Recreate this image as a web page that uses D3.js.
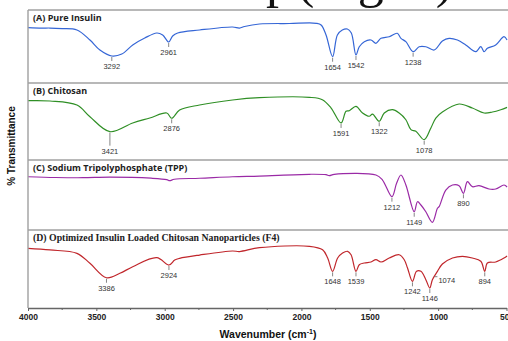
<!DOCTYPE html>
<html>
<head>
<meta charset="utf-8">
<script src="https://cdn.jsdelivr.net/npm/d3@7"></script>
<style>
  html, body { margin: 0; padding: 0; background: #fff; overflow: hidden; }
  svg { display: block; }
</style>
</head>
<body>
<svg id="ftir"></svg>
<script>
// Spectra: wavenumber (cm-1) and relative % transmittance per panel (0..100)
const insulinWn = [4000, 3900, 3839, 3750, 3642, 3547, 3474, 3387, 3314, 3234, 3146, 3058, 3015, 2971, 2942, 2905, 2745, 2504, 2453, 2416, 2307, 2088, 1891, 1856, 1820, 1772, 1737, 1701, 1664, 1635, 1601, 1577, 1540, 1491, 1455, 1418, 1358, 1299, 1272, 1236, 1183, 1139, 1090, 1029, 969, 920, 859, 798, 725, 688, 664, 640, 579, 518, 496];
const insulinT = [75.8, 75.2, 75.3, 74.5, 72.6, 58.9, 45.2, 37.0, 39.7, 52.1, 61.6, 68.5, 65.8, 56.2, 64.4, 68.5, 72.6, 76.7, 75.3, 77.4, 80.8, 81.5, 81.8, 79.5, 65.8, 36.0, 65.8, 72.6, 74.0, 68.5, 38.4, 49.7, 56.6, 58.9, 54.4, 61.2, 63.4, 68.1, 61.2, 56.6, 42.9, 49.7, 49.7, 45.2, 57.5, 61.2, 58.9, 52.1, 42.9, 49.7, 42.9, 47.5, 52.1, 63.4, 58.9];

const chitosanWn = [4000, 3839, 3642, 3547, 3401, 3234, 3109, 2985, 2949, 2891, 2745, 2504, 2307, 1942, 1847, 1783, 1710, 1674, 1650, 1601, 1553, 1504, 1480, 1431, 1394, 1334, 1285, 1236, 1199, 1163, 1102, 1053, 1017, 969, 847, 750, 664, 603, 542, 496];
const chitosanT = [77.0, 76.6, 71.4, 56.2, 36.8, 48.1, 54.5, 61.0, 54.2, 64.9, 71.4, 77.9, 80.9, 81.4, 78.3, 67.5, 48.1, 63.2, 64.0, 69.7, 61.0, 56.8, 59.7, 50.3, 61.0, 65.3, 61.0, 52.3, 39.4, 37.3, 26.4, 41.6, 54.5, 62.3, 72.7, 67.5, 61.0, 62.3, 65.3, 68.4];

const tppWn = [4000, 3800, 3600, 3400, 3100, 2985, 2964, 2930, 2745, 2504, 2307, 1942, 1820, 1796, 1760, 1455, 1407, 1338, 1304, 1272, 1236, 1175, 1151, 1126, 1090, 1042, 1005, 993, 944, 895, 847, 815, 786, 750, 701, 628, 579, 518, 496];
const tppT = [76.1, 75.0, 74.7, 75.5, 74.0, 72.0, 70.4, 72.5, 73.9, 76.1, 77.1, 79.6, 79.0, 77.6, 79.5, 78.6, 71.4, 47.6, 66.7, 78.6, 64.3, 26.1, 40.4, 35.7, 26.1, 11.0, 31.0, 33.3, 57.1, 64.3, 63.3, 52.4, 69.0, 61.9, 63.3, 58.6, 58.6, 64.3, 61.4];

const nanoWn = [4000, 3839, 3642, 3547, 3426, 3328, 3234, 3058, 2969, 2927, 2891, 2745, 2504, 2453, 2307, 1942, 1845, 1808, 1772, 1735, 1699, 1662, 1637, 1601, 1577, 1540, 1491, 1455, 1418, 1358, 1285, 1248, 1224, 1188, 1158, 1126, 1090, 1061, 1042, 1005, 969, 895, 822, 750, 688, 659, 640, 579, 518, 496];
const nanoT = [76.5, 74.4, 70.1, 57.3, 38.8, 44.5, 52.9, 64.5, 55.1, 61.5, 63.7, 67.9, 73.1, 72.4, 77.3, 79.1, 74.7, 64.1, 47.0, 64.1, 70.5, 72.7, 68.3, 47.0, 55.5, 57.7, 59.0, 61.9, 59.0, 64.1, 68.3, 61.9, 51.3, 34.2, 47.0, 47.0, 36.3, 25.6, 36.3, 47.0, 56.4, 64.1, 66.3, 64.1, 59.9, 47.0, 57.7, 59.0, 64.1, 66.7];

// Peak annotations: printed label and the wavenumber of the dip it marks
const insulinPeakLabels = ["3292", "2961", "1654", "1542", "1238"];
const insulinPeakWn = [3387, 2971, 1772, 1601, 1183];
const chitosanPeakLabels = ["3421", "2876", "1591", "1322", "1078"];
const chitosanPeakWn = [3401, 2949, 1710, 1431, 1102];
const tppPeakLabels = ["1212", "1149", "890"];
const tppPeakWn = [1338, 1175, 815];
const nanoPeakLabels = ["3386", "2924", "1648", "1539", "1242", "1146", "1074", "894"];
const nanoPeakWn = [3426, 2969, 1772, 1601, 1188, 1061, 1042, 659];

const panelTitles = ["(A) Pure Insulin", "(B) Chitosan", "(C) Sodium Tripolyphosphate (TPP)", "(D) Optimized Insulin Loaded Chitosan Nanoparticles (F4)"];
const xTicks = [4000, 3500, 3000, 2500, 2000, 1500, 1000, 500];

const W = 508, H = 341;
const svg = d3.select("#ftir").attr("width", W).attr("height", H);

// stray caption line from the page above, only its descenders show in the crop
const cap = svg.append("g")
  .attr("font-family", "Liberation Serif, serif")
  .attr("font-size", 52)
  .attr("fill", "#111");
cap.append("text").attr("x", 292).attr("y", -3).attr("text-anchor", "end").text("shap");
cap.append("text").attr("x", 297).attr("y", -3).text("(Fig. 2)");

const x = d3.scaleLinear().domain([4000, 500]).range([28, 506.5]);

const bands = [[10, 83], [83, 160], [160, 230], [230, 308]];
const series = [
  { wn: insulinWn, t: insulinT, color: "#3566d6", labels: insulinPeakLabels, peaks: insulinPeakWn },
  { wn: chitosanWn, t: chitosanT, color: "#2f8f25", labels: chitosanPeakLabels, peaks: chitosanPeakWn },
  { wn: tppWn, t: tppT, color: "#9a2aa6", labels: tppPeakLabels, peaks: tppPeakWn },
  { wn: nanoWn, t: nanoT, color: "#c0262b", labels: nanoPeakLabels, peaks: nanoPeakWn }
];

svg.append("defs").append("clipPath").attr("id", "plotClip")
  .append("rect").attr("x", 28).attr("y", 0).attr("width", W - 28).attr("height", H);

series.forEach((s, i) => {
  const [top, bottom] = bands[i];
  const y = d3.scaleLinear().domain([0, 100]).range([bottom, top]);
  const g = svg.append("g");

  // panel frame
  g.append("line")
    .attr("x1", 28).attr("x2", W)
    .attr("y1", top).attr("y2", top)
    .attr("stroke", "#a0a0a0").attr("stroke-width", 1.4);

  const pts = s.wn.map((w, k) => [w, s.t[k]]);
  const line = d3.line()
    .x(d => x(d[0]))
    .y(d => y(d[1]))
    .curve(d3.curveCatmullRom.alpha(0.5));

  g.append("path")
    .datum(pts)
    .attr("clip-path", "url(#plotClip)")
    .attr("fill", "none")
    .attr("stroke", s.color)
    .attr("stroke-width", 1.2)
    .attr("d", line);

  // title
  const serifTitle = i === 3;
  g.append("text")
    .attr("x", 33).attr("y", top + 11)
    .attr("font-family", serifTitle ? "Liberation Serif, serif" : "Open Sans, sans-serif")
    .attr("font-weight", "bold")
    .attr("font-size", serifTitle ? 9.8 : 9)
    .attr("fill", "#222")
    .text(panelTitles[i]);

  // peak markers
  s.peaks.forEach((pw, k) => {
    const k0 = s.wn.indexOf(pw);
    const px = x(pw), py = y(s.t[k0]);
    const side = s.labels[k] === "1074";
    const long = s.labels[k] === "3421";
    if (side) {
      g.append("line").attr("x1", px + 2).attr("x2", px + 5)
        .attr("y1", py - 3).attr("y2", py - 3)
        .attr("stroke", "#666").attr("stroke-width", 0.8);
      g.append("text").attr("x", px + 6).attr("y", py + 3)
        .attr("font-family", "Liberation Sans, Arial, sans-serif")
        .attr("font-size", 7.5).attr("fill", "#333")
        .text(s.labels[k]);
    } else {
      const len = long ? 13 : 4;
      g.append("line").attr("x1", px).attr("x2", px)
        .attr("y1", py + 1).attr("y2", py + 1 + len)
        .attr("stroke", "#666").attr("stroke-width", 0.8);
      g.append("text").attr("x", px).attr("y", py + len + 9)
        .attr("text-anchor", "middle")
        .attr("font-family", "Liberation Sans, Arial, sans-serif")
        .attr("font-size", 7.5).attr("fill", "#333")
        .text(s.labels[k]);
    }
  });
});

// left frame line
svg.append("line")
  .attr("x1", 28).attr("x2", 28).attr("y1", 10).attr("y2", 308)
  .attr("stroke", "#a0a0a0").attr("stroke-width", 1.4);

// x axis
const axis = svg.append("g")
  .attr("transform", "translate(0,308)")
  .call(d3.axisBottom(x).tickValues(xTicks).tickFormat(d3.format("d")).tickSize(3).tickSizeOuter(0));
axis.select(".domain").attr("stroke", "#666").attr("stroke-width", 1.4);
axis.selectAll(".tick line").attr("stroke", "#666");
axis.selectAll(".tick text")
  .attr("font-family", "Liberation Sans, Arial, sans-serif")
  .attr("font-weight", "bold")
  .attr("font-size", 8.5)
  .attr("fill", "#222")
  .attr("dy", "0.75em");

// minor ticks
svg.append("g").selectAll("line")
  .data(d3.range(3750, 500, -500))
  .join("line")
  .attr("x1", d => x(d)).attr("x2", d => x(d))
  .attr("y1", 308).attr("y2", 310)
  .attr("stroke", "#666");

// axis titles
const xt = svg.append("text")
  .attr("x", 268).attr("y", 338)
  .attr("text-anchor", "middle")
  .attr("font-family", "Liberation Sans, Arial, sans-serif")
  .attr("font-weight", "bold")
  .attr("font-size", 10.5)
  .attr("fill", "#111");
xt.append("tspan").text("Wavenumber (cm");
xt.append("tspan").attr("dy", -4).attr("font-size", 7).text("-1");
xt.append("tspan").attr("dy", 4).text(")");

svg.append("text")
  .attr("transform", "translate(15,146) rotate(-90)")
  .attr("text-anchor", "middle")
  .attr("font-family", "Liberation Sans, Arial, sans-serif")
  .attr("font-weight", "bold")
  .attr("font-size", 10)
  .attr("fill", "#111")
  .text("% Transmittance");
</script>
</body>
</html>
